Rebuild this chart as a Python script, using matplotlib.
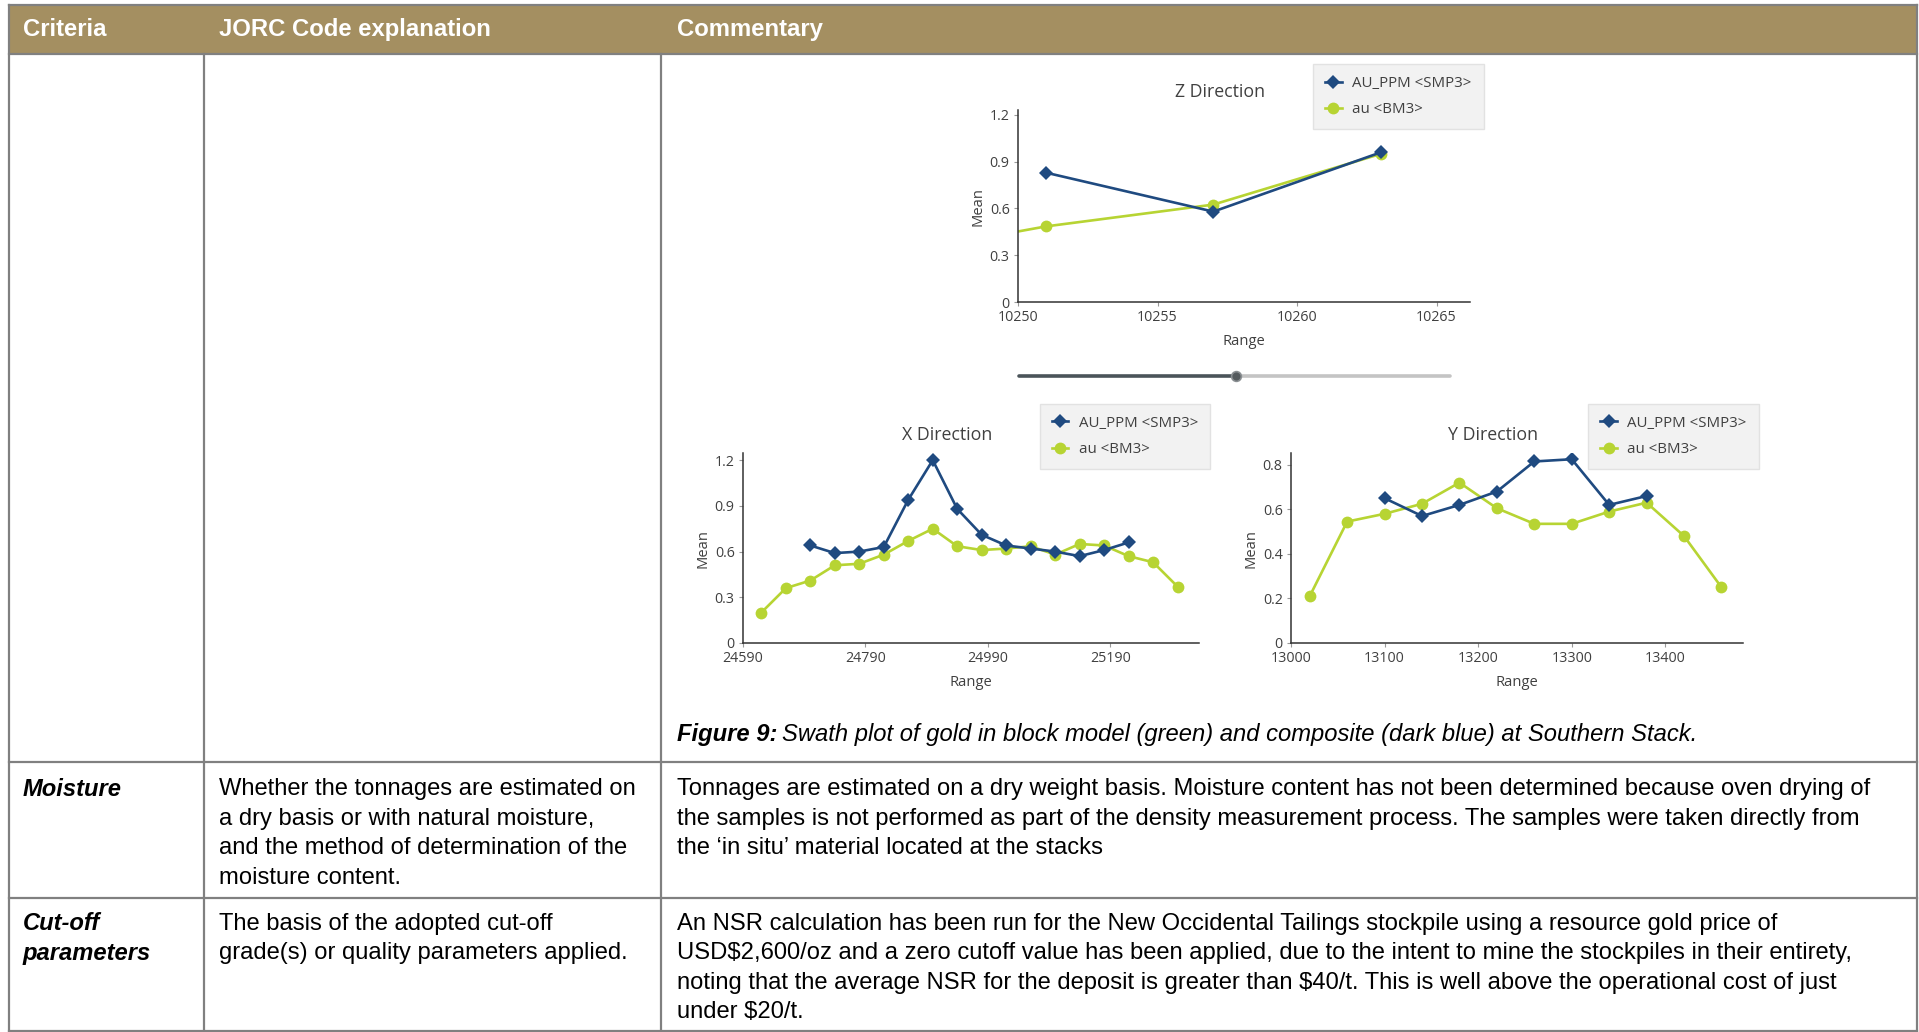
import matplotlib
matplotlib.use("Agg")
import matplotlib.pyplot as plt
from matplotlib.lines import Line2D
from matplotlib.patches import Rectangle

W, H = 1919, 1032

# ---- swath data ----
z_range_au = [10251, 10257, 10263]
z_au = [0.83, 0.58, 0.96]
z_range_bm = [10245, 10251, 10257, 10263]
z_bm = [0.29, 0.485, 0.625, 0.95]

x_range_au = [24700, 24740, 24780, 24820, 24860, 24900, 24940, 24980, 25020,
              25060, 25100, 25140, 25180, 25220]
x_au = [0.64, 0.59, 0.60, 0.63, 0.94, 1.20, 0.88, 0.71, 0.64, 0.62, 0.60,
        0.57, 0.61, 0.66]
x_range_bm = [24620, 24660, 24700, 24740, 24780, 24820, 24860, 24900, 24940,
              24980, 25020, 25060, 25100, 25140, 25180, 25220, 25260, 25300]
x_bm = [0.20, 0.36, 0.41, 0.51, 0.52, 0.58, 0.67, 0.75, 0.635, 0.61, 0.62,
        0.635, 0.58, 0.65, 0.64, 0.57, 0.53, 0.37]

y_range_au = [13100, 13140, 13180, 13220, 13260, 13300, 13340, 13380]
y_au = [0.65, 0.57, 0.62, 0.68, 0.815, 0.825, 0.62, 0.66]
y_range_bm = [13020, 13060, 13100, 13140, 13180, 13220, 13260, 13300, 13340,
              13380, 13420, 13460]
y_bm = [0.21, 0.545, 0.58, 0.625, 0.72, 0.605, 0.535, 0.535, 0.59, 0.63,
        0.48, 0.25]

z_xticks = [10250, 10255, 10260, 10265]
x_xticks = [24590, 24790, 24990, 25190]
y_xticks = [13000, 13100, 13200, 13300, 13400]
yticks_12 = [0, 0.3, 0.6, 0.9, 1.2]
yticks_08 = [0, 0.2, 0.4, 0.6, 0.8]

AU_LABEL = "AU_PPM <SMP3>"
BM_LABEL = "au <BM3>"
BLUE = "#1f4a80"
GREEN = "#b7d433"
TXT = "#404040"
CHART_FONT = ["Open Sans", "DejaVu Sans"]
TABLE_FONT = ["Liberation Sans", "DejaVu Sans"]
LINE_C = "#808080"
HEAD_C = "#a48f61"


def fx(x):
  return x / W


def fy(y):
  return 1 - y / H


def box(left, top, width, height):
  return [fx(left), fy(top + height), width / W, height / H]


fig = plt.figure(figsize=(W / 100, H / 100), dpi=100)
fig.patch.set_facecolor("white")

# ---- table frame ----
fig.add_artist(Rectangle((fx(8.6), fy(53.5)), (1916.6 - 8.6) / W, (53.5 - 4.9) / H,
                         transform=fig.transFigure, facecolor=HEAD_C, edgecolor="none"))


def hline(y, x0=8.6, x1=1916.6):
  fig.add_artist(Line2D([fx(x0), fx(x1)], [fy(y), fy(y)], color=LINE_C, lw=1.6))


def vline(x, y0, y1):
  fig.add_artist(Line2D([fx(x), fx(x)], [fy(y0), fy(y1)], color=LINE_C, lw=1.6))


hline(4.9)
hline(53.5)
hline(762)
hline(897.5)
hline(1030.5)
vline(8.6, 4.9, 1030.5)
vline(1916.6, 4.9, 1030.5)
vline(204.4, 53.5, 1030.5)
vline(660.9, 53.5, 1030.5)

# header texts
for x, s in [(23, "Criteria"), (219, "JORC Code explanation"), (677, "Commentary")]:
  fig.text(fx(x), fy(29.5), s, color="white", fontsize=17.2, fontweight="bold",
           family=TABLE_FONT, va="center", ha="left")

LS = 29.4
body = dict(fontsize=17.1, family=TABLE_FONT, va="center", ha="left", color="black")

Y_MOIST = 789.5
Y_CUT = 924
fig.text(fx(23), fy(Y_MOIST), "Moisture", fontweight="bold", style="italic", **body)
moist_col2 = ["Whether the tonnages are estimated on",
              "a dry basis or with natural moisture,",
              "and the method of determination of the",
              "moisture content."]
moist_col3 = ["Tonnages are estimated on a dry weight basis. Moisture content has not been determined because oven drying of",
              "the samples is not performed as part of the density measurement process. The samples were taken directly from",
              "the \u2018in situ\u2019 material located at the stacks"]
for i, s in enumerate(moist_col2):
  fig.text(fx(219), fy(Y_MOIST + i * LS), s, **body)
for i, s in enumerate(moist_col3):
  fig.text(fx(677), fy(Y_MOIST + i * LS), s, **body)

for i, s in enumerate(["Cut-off", "parameters"]):
  fig.text(fx(23), fy(Y_CUT + i * LS), s, fontweight="bold", style="italic", **body)
cut_col2 = ["The basis of the adopted cut-off",
            "grade(s) or quality parameters applied."]
cut_col3 = ["An NSR calculation has been run for the New Occidental Tailings stockpile using a resource gold price of",
            "USD$2,600/oz and a zero cutoff value has been applied, due to the intent to mine the stockpiles in their entirety,",
            "noting that the average NSR for the deposit is greater than $40/t. This is well above the operational cost of just",
            "under $20/t."]
for i, s in enumerate(cut_col2):
  fig.text(fx(219), fy(Y_CUT + i * LS), s, **body)
for i, s in enumerate(cut_col3):
  fig.text(fx(677), fy(Y_CUT + i * LS), s, **body)

# caption
cap = fig.text(fx(677), fy(734.5), "Figure 9:", fontweight="bold", style="italic", **body)
fig.canvas.draw()
bb = cap.get_window_extent()
fig.text(bb.x1 / W + 5 / W, fy(734.5),
         "Swath plot of gold in block model (green) and composite (dark blue) at Southern Stack.",
         style="italic", **body)


# ---- swath charts ----
def swath(rect, title, rx_au, v_au, rx_bm, v_bm, xlim, ylim, xticks, yticks, leg_anchor):
  ax = fig.add_axes(rect)
  ax.plot(rx_bm, v_bm, color=GREEN, lw=1.9, marker="o", ms=8.5, mew=0, label=BM_LABEL, zorder=2)
  ax.plot(rx_au, v_au, color=BLUE, lw=1.9, marker="D", ms=6.8, mew=0, label=AU_LABEL, zorder=3)
  ax.set_xlim(*xlim)
  ax.set_ylim(*ylim)
  ax.set_xticks(xticks)
  ax.set_xticklabels([str(t) for t in xticks])
  ax.set_yticks(yticks)
  ax.set_yticklabels(["0" if t == 0 else f"{t:g}" for t in yticks])
  for sp in ["top", "right"]:
    ax.spines[sp].set_visible(False)
  for sp in ["left", "bottom"]:
    ax.spines[sp].set_color("#333333")
    ax.spines[sp].set_linewidth(1.1)
  ax.tick_params(length=3, width=0.8, color="#999999", labelcolor=TXT, labelsize=10.3, pad=3)
  for lab in ax.get_xticklabels() + ax.get_yticklabels():
    lab.set_family(CHART_FONT)
  ax.set_xlabel("Range", fontsize=10.6, color=TXT, family=CHART_FONT, labelpad=6)
  ax.set_ylabel("Mean", fontsize=10.6, color=TXT, family=CHART_FONT, labelpad=3)
  ax.text(0.447, 1.095, title, transform=ax.transAxes, ha="center", va="center",
          fontsize=12.8, color=TXT, family=CHART_FONT)
  h, l = ax.get_legend_handles_labels()
  leg = ax.legend(h[::-1], l[::-1], loc="upper right", bbox_to_anchor=leg_anchor,
                  frameon=True, fancybox=False, facecolor="#f2f2f2", edgecolor="#e2e2e2",
                  framealpha=1, prop={"family": CHART_FONT, "size": 10.8},
                  handlelength=1.1, borderpad=0.8, labelspacing=0.75, handletextpad=0.7,
                  borderaxespad=0)
  for t in leg.get_texts():
    t.set_color(TXT)
  return ax


swath(box(1018, 110, 452, 192), "Z Direction", z_range_au, z_au, z_range_bm, z_bm,
      (10250, 10266.2), (0, 1.232), z_xticks, yticks_12, (1.03, 1.24))
swath(box(743, 453, 456, 190), "X Direction", x_range_au, x_au, x_range_bm, x_bm,
      (24590, 25335), (0, 1.247), x_xticks, yticks_12, (1.024, 1.26))
swath(box(1291, 453, 452, 190), "Y Direction", y_range_au, y_au, y_range_bm, y_bm,
      (13000, 13483), (0, 0.853), y_xticks, yticks_08, (1.035, 1.26))

# slider under the Z chart
sax = fig.add_axes(box(1015, 366, 442, 20))
sax.set_xlim(0, 1)
sax.set_ylim(0, 1)
sax.axis("off")
sax.plot([0.01, 0.5], [0.5, 0.5], color="#4a5459", lw=2.6, solid_capstyle="round")
sax.plot([0.5, 0.985], [0.5, 0.5], color="#c4c4c4", lw=2.6, solid_capstyle="round")
sax.plot([0.5], [0.5], marker="o", ms=7, color="#555b5e", mec="#8a8f92", mew=1.2)

fig.savefig("out.png", dpi=100, facecolor="white")
